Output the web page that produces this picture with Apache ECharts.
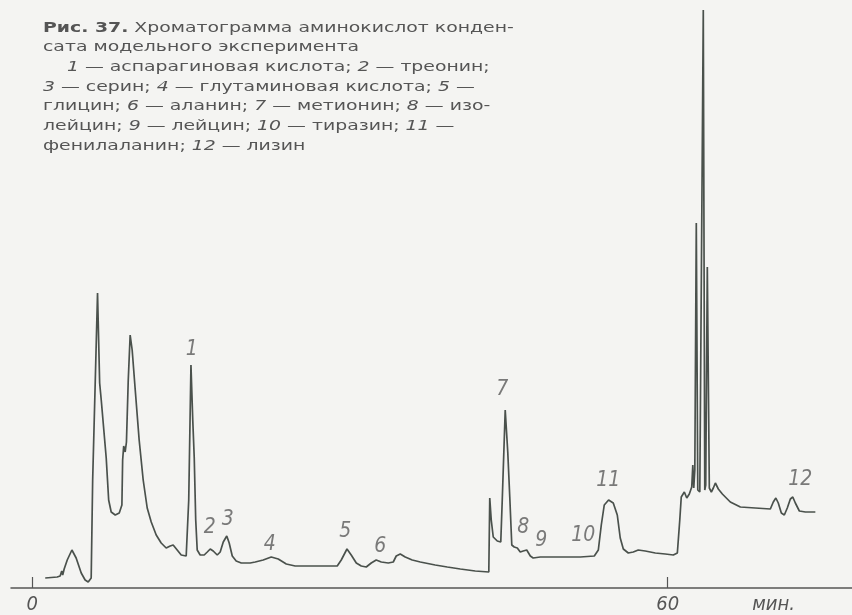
<!DOCTYPE html>
<html>
<head>
<meta charset="utf-8">
<script src="https://cdn.jsdelivr.net/npm/echarts@6/dist/echarts.min.js"></script>
<style>
html,body{margin:0;padding:0;background:#f4f4f2;}
#chart{width:852px;height:615px;}
</style>
</head>
<body>
<div id="chart"></div>
<script>
// retention time, minutes
var times = [1.23,2.36,2.64,2.79,2.88,3.02,3.31,3.75,4.15,4.63,5.00,5.29,5.57,5.71,5.95,6.17,6.37,6.52,6.99,7.22,7.46,7.84,8.22,8.47,8.54,8.64,8.78,8.90,9.07,9.25,9.44,9.73,10.10,10.48,10.86,11.24,11.71,12.18,12.65,13.03,13.31,13.69,14.07,14.54,14.78,14.99,15.16,15.30,15.44,15.58,15.86,16.24,16.53,16.81,17.09,17.47,17.75,18.04,18.37,18.60,18.89,19.26,19.74,20.58,21.06,21.81,22.57,23.23,23.99,24.83,27.20,28.80,29.18,29.72,30.12,30.60,31.07,31.54,32.01,32.48,32.96,33.62,34.09,34.37,34.75,35.22,35.88,36.64,38.05,39.19,40.42,41.83,43.11,43.20,43.34,43.53,43.91,44.24,44.38,44.66,44.90,45.09,45.28,45.51,45.80,46.08,46.36,46.69,47.03,47.30,47.97,49.86,51.75,53.07,53.45,53.73,54.01,54.42,54.86,55.24,55.52,55.81,56.28,56.75,57.22,57.88,58.83,59.77,60.53,60.91,61.14,61.28,61.57,61.80,62.04,62.27,62.37,62.46,62.56,62.70,62.84,63.03,63.36,63.50,63.59,63.74,63.93,64.12,64.31,64.50,64.78,65.16,65.91,66.86,68.27,69.69,69.97,70.21,70.44,70.73,71.01,71.29,71.58,71.81,72.05,72.43,73.00,73.94];
// detector signal, arbitrary units
var signal = [10,11,12,17,13,19,28,38,30,15,8,6,10,108,205,295,205,188,130,88,76,73,75,83,128,142,136,146,208,253,238,198,148,108,80,66,53,45,40,42,43,38,33,32,88,223,168,130,68,38,33,33,36,39,37,33,36,46,52,45,32,27,25,25,26,28,31,29,24,22,22,22,28,39,33,25,22,21,25,28,26,25,26,32,34,31,28,26,23,21,19,17,16,90,68,51,47,46,88,178,136,91,43,41,40,36,37,38,32,30,31,31,31,32,38,63,83,88,85,73,50,39,35,36,38,37,35,34,33,35,68,91,96,90,94,101,123,100,118,365,98,96,578,98,103,321,100,96,100,105,99,94,86,81,80,79,86,90,85,75,73,80,89,91,85,77,76,76];

// peak numbers and where they are written
var peakNames = ['1','2','3','4','5','6','7','8','9','10','11','12'];
var peakLabelTime = [15.06,16.76,18.46,22.43,29.56,32.86,44.38,46.36,48.06,52.03,54.39,72.52];
var peakLabelLevel = [238,60,68,43,56,41,198,60,47,52,107,108];

// axis ticks
var tickValues = [0, 60];
var tickLabels = ['0', '60'];
var unitLabel = 'мин.';
var unitPosition = 70;

var captionLines = [
  '{b|Рис. 37.} Хроматограмма аминокислот конден-',
  'сата модельного эксперимента',
  '    {i|1} — аспарагиновая кислота; {i|2} — треонин;',
  '{i|3} — серин; {i|4} — глутаминовая кислота; {i|5} —',
  'глицин; {i|6} — аланин; {i|7} — метионин; {i|8} — изо-',
  'лейцин; {i|9} — лейцин; {i|10} — тиразин; {i|11} —',
  'фенилаланин; {i|12} — лизин'
];

var lineData = times.map(function (t, i) { return [t, signal[i]]; });
var labelData = peakNames.map(function (n, i) { return { name: n, value: [peakLabelTime[i], peakLabelLevel[i]] }; });

var capFont = 14.5, capLH = 19.7, textColor = '#555';

var chart = echarts.init(document.getElementById('chart'));
chart.setOption({
  backgroundColor: '#f4f4f2',
  animation: false,
  graphic: [{
    type: 'text',
    x: 43,
    y: 18,
    scaleX: 1.3,
    scaleY: 1,
    silent: true,
    style: {
      text: captionLines.join('\n'),
      fontFamily: 'DejaVu Sans',
      fontSize: capFont,
      fill: textColor,
      lineHeight: capLH,
      verticalAlign: 'top',
      align: 'left',
      rich: {
        b: { fontFamily: 'DejaVu Sans', fontSize: capFont, fontWeight: 'bold', fill: textColor, lineHeight: capLH },
        i: { fontFamily: 'DejaVu Sans', fontSize: capFont, fontStyle: 'italic', fill: textColor, lineHeight: capLH }
      }
    }
  }],
  grid: { left: 11, right: 0, top: 0, bottom: 27 },
  xAxis: {
    type: 'value',
    min: -2,
    max: 77.4,
    splitLine: { show: false },
    axisLine: { show: true, onZero: false, lineStyle: { color: '#555', width: 1.5 } },
    axisTick: { show: true, inside: true, length: 11, customValues: tickValues, lineStyle: { color: '#555', width: 1.2 } },
    axisLabel: {
      show: true,
      customValues: tickValues.concat([unitPosition]),
      margin: 7,
      fontFamily: 'DejaVu Sans Condensed',
      fontStyle: 'italic',
      fontSize: 20,
      color: '#555',
      formatter: function (v) {
        var k = tickValues.indexOf(v);
        return k >= 0 ? tickLabels[k] : unitLabel;
      }
    }
  },
  yAxis: { type: 'value', min: 0, max: 588, show: false },
  series: [
    {
      type: 'line',
      data: lineData,
      showSymbol: false,
      smooth: false,
      lineStyle: { color: '#4a514c', width: 1.7 },
      z: 3
    },
    {
      type: 'scatter',
      data: labelData,
      symbolSize: 0,
      label: {
        show: true,
        position: 'inside',
        formatter: '{b}',
        fontFamily: 'DejaVu Sans Condensed',
        fontStyle: 'italic',
        fontSize: 21,
        color: '#5a5a5a'
      },
      z: 4
    }
  ]
});
</script>
</body>
</html>
